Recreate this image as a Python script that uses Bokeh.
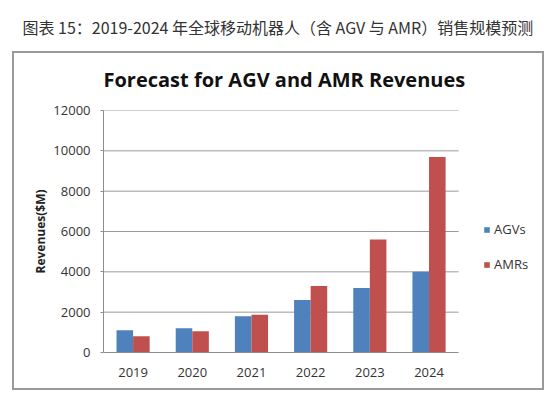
from bokeh.plotting import figure
from bokeh.models import (ColumnDataSource, Range1d, FixedTicker, Title,
                          Legend, LegendItem)
from bokeh.transform import dodge
from bokeh.embed import file_html
from bokeh.resources import INLINE

# ---- data ----
years = ["2019", "2020", "2021", "2022", "2023", "2024"]
agv = [1100, 1200, 1800, 2600, 3200, 4000]
amr = [800, 1050, 1870, 3300, 5600, 9700]
y_ticks = [0, 2000, 4000, 6000, 8000, 10000, 12000]
series_names = ["AGVs", "AMRs"]
caption = "图表 15：2019-2024 年全球移动机器人（含 AGV 与 AMR）销售规模预测"
title = "Forecast for AGV and AMR Revenues"
y_label = "Revenues($M)"

BLUE = "#4F81BD"
RED = "#C0504D"
FONT = "Open Sans"
G = "linear-gradient(#9a9a9a,#9a9a9a)"
box_css = ", ".join([
    f"{G} 12px 51px / 532px 2px no-repeat",
    f"{G} 12px 388px / 532px 2px no-repeat",
    f"{G} 12px 51px / 2px 339px no-repeat",
    f"{G} 542px 51px / 2px 339px no-repeat",
])

xi = list(range(len(years)))
src = ColumnDataSource(dict(xi=xi, agv=agv, amr=amr))
cat_lo, cat_hi = -0.5, len(years) - 0.5

# the frame extends to the right edge so the legend (drawn in the frame) is not clipped
p = figure(width=554, height=397, output_backend="svg", toolbar_location=None,
           x_range=Range1d(cat_lo, cat_hi + 1.62), y_range=Range1d(0, 12000),
           min_border_left=103, min_border_right=0,
           min_border_top=110, min_border_bottom=45,
           styles={"background": box_css})
p.outline_line_color = None
p.background_fill_color = None
p.border_fill_color = None

# outer title: caption above the chart box
p.title.text = caption
p.title.align = "left"
p.title.offset = -81
p.title.text_font = "Noto Sans CJK SC"
p.title.text_font_size = "16px"
p.title.text_font_style = "normal"
p.title.text_color = "#333333"
p.title.standoff = 13

# inner title: chart title
p.add_layout(Title(text=title, align="left", offset=0, text_font=FONT,
                   text_font_size="20px", text_font_style="bold",
                   text_color="#111111", standoff=36), "above")

# gridlines (limited to the category span)
p.ygrid.visible = False
p.xgrid.visible = False
p.segment(x0=cat_lo, x1=cat_hi, y0=y_ticks[1:], y1=y_ticks[1:],
          line_color="#9a9a9a", line_width=1)

r1 = p.vbar(x=dodge("xi", -0.14), top="agv", width=0.28,
            source=src, fill_color=BLUE, line_color=None)
r2 = p.vbar(x=dodge("xi", 0.14), top="amr", width=0.28,
            source=src, fill_color=RED, line_color=None)

p.yaxis.ticker = FixedTicker(ticks=y_ticks)
p.yaxis.bounds = (y_ticks[0], y_ticks[-1])
p.yaxis.minor_tick_line_color = None
p.yaxis.major_tick_in = 0
p.yaxis.major_tick_out = 3
p.yaxis.major_label_standoff = 10
p.yaxis.axis_line_color = "#8c8c8c"
p.yaxis.major_tick_line_color = "#8c8c8c"
p.yaxis.major_label_text_font = FONT
p.yaxis.major_label_text_font_size = "13px"
p.yaxis.major_label_text_color = "#333333"
p.yaxis.axis_label = y_label
p.yaxis.axis_label_text_font = FONT
p.yaxis.axis_label_text_font_style = "bold"
p.yaxis.axis_label_text_font_size = "12px"
p.yaxis.axis_label_text_color = "#222222"
p.yaxis.axis_label_standoff = 1

p.xaxis.ticker = FixedTicker(ticks=xi)
p.xaxis.major_label_overrides = {i: y for i, y in zip(xi, years)}
p.xaxis.bounds = (cat_lo, cat_hi)
p.xaxis.major_tick_line_color = None
p.xaxis.minor_tick_line_color = None
p.xaxis.major_tick_out = 0
p.xaxis.major_tick_in = 0
p.xaxis.major_label_standoff = 15
p.xaxis.axis_line_color = "#8c8c8c"
p.xaxis.major_label_text_font = FONT
p.xaxis.major_label_text_font_size = "13px"
p.xaxis.major_label_text_color = "#333333"

legend = Legend(items=[LegendItem(label=series_names[0], renderers=[r1]),
                       LegendItem(label=series_names[1], renderers=[r2])],
                location=(380, 78), orientation="vertical",
                glyph_width=7, glyph_height=7, label_standoff=4,
                label_height=20, spacing=15, padding=0, margin=0,
                border_line_color=None, background_fill_alpha=0,
                label_text_font=FONT, label_text_font_size="13px",
                label_text_color="#333333")
p.add_layout(legend)

open("out.html", "w").write(file_html(p, INLINE))
